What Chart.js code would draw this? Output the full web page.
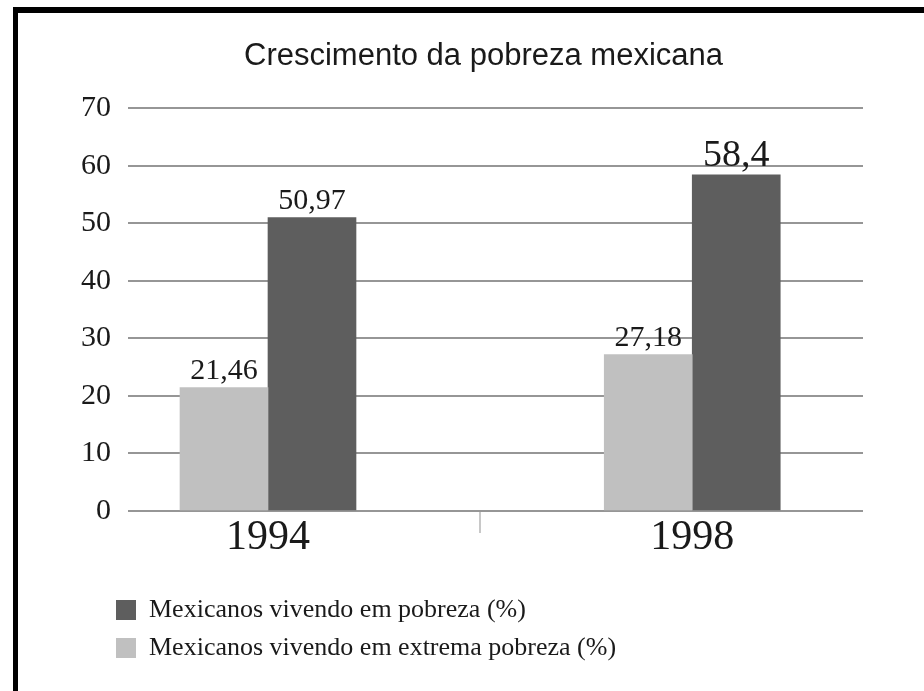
<!DOCTYPE html>
<html>
<head>
<meta charset="utf-8">
<script src="https://cdn.jsdelivr.net/npm/chart.js@4.4.1/dist/chart.umd.min.js"></script>
<style>
    html, body { margin: 0; padding: 0; background: #fff; }
    #wrap { position: relative; width: 924px; height: 691px; overflow: hidden; }
    #chart { position: absolute; left: 0; top: 0; }
    /* moldura preta (só topo e esquerda, como no original) */
    #frame {
        position: absolute; left: 13px; top: 7px; width: 1000px; height: 800px;
        border-top: 6px solid #000; border-left: 5px solid #000; pointer-events: none;
    }
</style>
</head>
<body>
<div id="wrap">
    <canvas id="chart" width="924" height="691"></canvas>
    <div id="frame"></div>
</div>
<script>
// ===============================
// Dados
// ===============================
const anos = ['1994', '1998'];
const extremaPobreza = [21.46, 27.18];   // % em extrema pobreza
const pobreza = [50.97, 58.4];           // % em pobreza
const yTicks = [0, 10, 20, 30, 40, 50, 60, 70];

const anosNum = anos.map(Number);
const meioAnos = (anosNum[0] + anosNum[1]) / 2;
const maiorValor = Math.max(...pobreza, ...extremaPobreza);

const serif = '"Liberation Serif", "DejaVu Serif", serif';

// rótulos com vírgula decimal acima das barras
const rotulosPlugin = {
    id: 'rotulos',
    afterDatasetsDraw(chart) {
        const ctx = chart.ctx;
        ctx.save();
        ctx.textAlign = 'center';
        ctx.textBaseline = 'alphabetic';
        ctx.fillStyle = '#1a1a1a';
        chart.data.datasets.forEach((ds, di) => {
            chart.getDatasetMeta(di).data.forEach((bar, i) => {
                const v = ds.data[i].y;
                ctx.font = (v === maiorValor ? 38 : 30) + 'px ' + serif;
                ctx.fillText(String(v).replace('.', ','), bar.x, bar.y - 9);
            });
        });
        ctx.restore();
    }
};

const ctx = document.getElementById('chart').getContext('2d');

new Chart(ctx, {
    type: 'bar',
    data: {
        datasets: [{
            label: 'Mexicanos vivendo em extrema pobreza (%)',
            data: anosNum.map((a, i) => ({ x: a, y: extremaPobreza[i] })),
            backgroundColor: '#c0c0c0',
            borderWidth: 0
        }, {
            label: 'Mexicanos vivendo em pobreza (%)',
            data: anosNum.map((a, i) => ({ x: a, y: pobreza[i] })),
            backgroundColor: '#5e5e5e',
            borderWidth: 0
        }]
    },
    plugins: [rotulosPlugin],
    options: {
        responsive: false,
        animation: false,
        barThickness: 88,
        layout: { padding: { left: 104, right: 61, top: 0, bottom: 20 } },
        plugins: {
            title: {
                display: true,
                text: 'Crescimento da pobreza mexicana',
                color: '#1a1a1a',
                font: { family: '"Liberation Sans", Arial, sans-serif', size: 31, weight: 'normal' },
                padding: { top: 38, bottom: 33 }
            },
            legend: {
                position: 'bottom',
                align: 'start',
                reverse: true,
                labels: {
                    boxWidth: 20,
                    boxHeight: 20,
                    padding: 12,
                    color: '#1a1a1a',
                    font: { family: serif, size: 26 }
                }
            },
            tooltip: { enabled: false }
        },
        scales: {
            x: {
                type: 'linear',
                offset: false,
                min: 1992.68,
                max: 1999.61,
                afterBuildTicks: s => { s.ticks = [anosNum[0], meioAnos, anosNum[1]].map(v => ({ value: v })); },
                afterFit: s => { s.height = 74; },
                border: { display: false },
                grid: {
                    offset: false,
                    drawOnChartArea: false,
                    drawTicks: true,
                    tickLength: 22,
                    lineWidth: 2,
                    color: c => (c.tick && c.tick.value === meioAnos) ? '#c8c8c8' : 'rgba(0,0,0,0)'
                },
                ticks: {
                    padding: -20,
                    color: '#1a1a1a',
                    font: { family: serif, size: 42 },
                    callback: v => (v === meioAnos ? '' : String(v))
                }
            },
            y: {
                min: 0,
                max: 70,
                afterBuildTicks: s => { s.ticks = yTicks.map(v => ({ value: v })); },
                afterFit: s => { s.width = 24; },
                border: { display: false },
                grid: { color: '#969696', lineWidth: 2, drawTicks: false },
                ticks: {
                    mirror: true,
                    crossAlign: 'far',
                    padding: -47,
                    color: '#1a1a1a',
                    font: { family: serif, size: 30 }
                }
            }
        }
    }
});
</script>
</body>
</html>
